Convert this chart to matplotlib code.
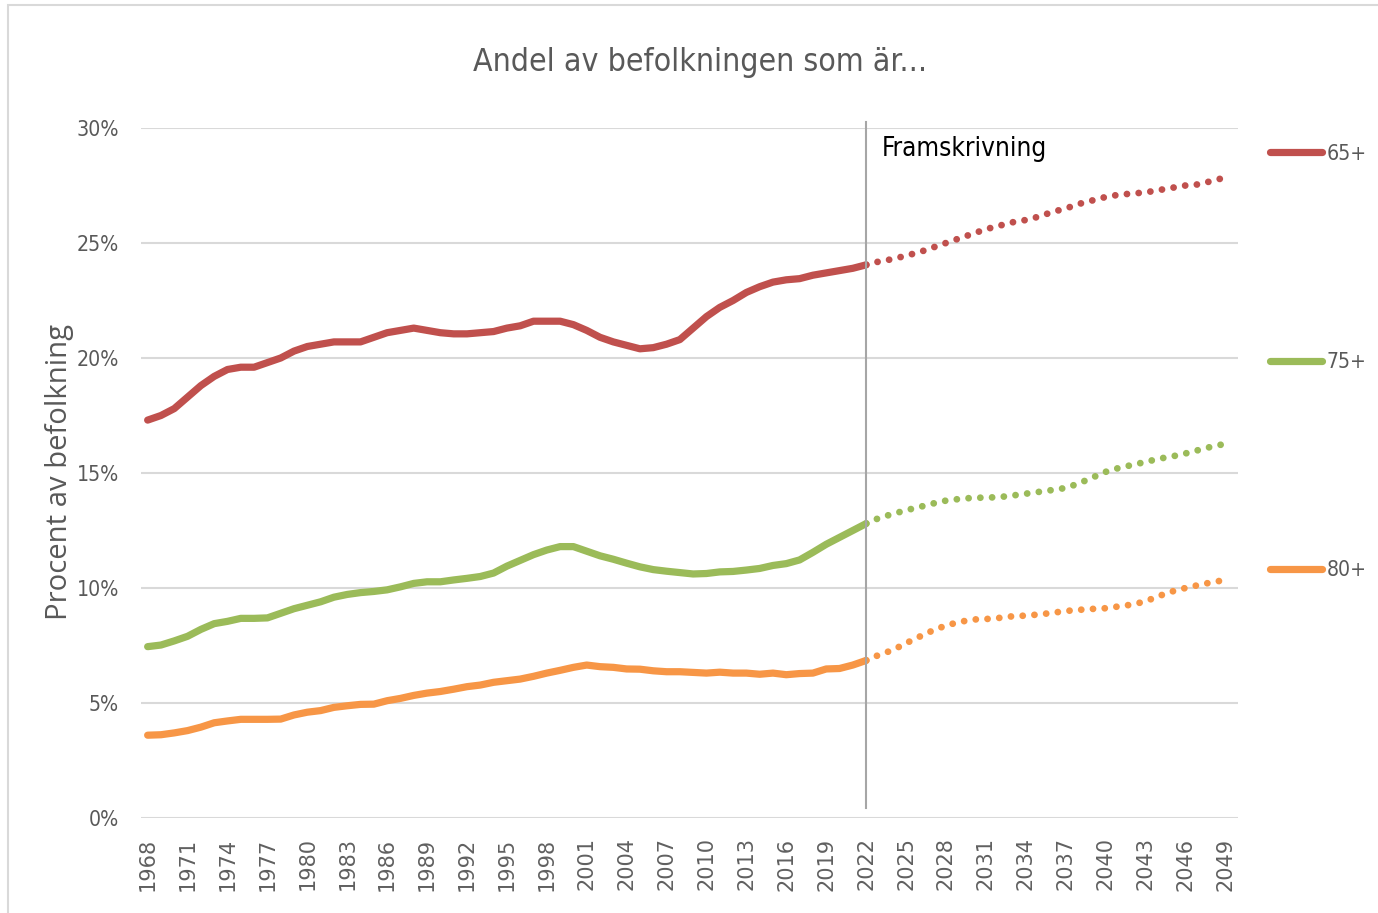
import matplotlib
matplotlib.use("Agg")
import matplotlib.pyplot as plt
from matplotlib.lines import Line2D
from matplotlib.ticker import PercentFormatter
from matplotlib.patches import Rectangle
from matplotlib import font_manager as fm

hist_years = list(range(1968, 2023))
proj_years = list(range(2022, 2050))
tick_years = list(range(1968, 2050, 3))

andel_65_hist = [17.3, 17.5, 17.8, 18.3, 18.8, 19.2, 19.5, 19.6, 19.6, 19.8,
                 20.0, 20.3, 20.5, 20.6, 20.7, 20.7, 20.7, 20.9, 21.1, 21.2,
                 21.3, 21.2, 21.1, 21.05, 21.05, 21.1, 21.15, 21.3, 21.4, 21.6,
                 21.6, 21.6, 21.45, 21.2, 20.9, 20.7, 20.55, 20.4, 20.45, 20.6,
                 20.8, 21.3, 21.8, 22.2, 22.5, 22.85, 23.1, 23.3, 23.4, 23.45,
                 23.6, 23.7, 23.8, 23.9, 24.05]
andel_65_proj = [24.05, 24.2, 24.3, 24.45, 24.6, 24.8, 25.0, 25.2, 25.4, 25.6,
                 25.75, 25.9, 26.0, 26.15, 26.35, 26.5, 26.7, 26.85, 27.0, 27.1,
                 27.15, 27.2, 27.3, 27.4, 27.5, 27.55, 27.7, 27.85]

andel_75_hist = [7.45, 7.52, 7.7, 7.9, 8.2, 8.45, 8.55, 8.68, 8.68, 8.7,
                 8.9, 9.1, 9.25, 9.4, 9.6, 9.72, 9.8, 9.85, 9.92, 10.05,
                 10.2, 10.27, 10.27, 10.35, 10.42, 10.5, 10.65, 10.95, 11.2, 11.45,
                 11.65, 11.8, 11.8, 11.6, 11.4, 11.25, 11.08, 10.92, 10.8, 10.73,
                 10.67, 10.61, 10.63, 10.7, 10.72, 10.78, 10.85, 10.98, 11.06, 11.22,
                 11.55, 11.9, 12.2, 12.5, 12.8]
andel_75_proj = [12.8, 13.05, 13.22, 13.38, 13.52, 13.67, 13.8, 13.87, 13.92, 13.93,
                 13.95, 14.02, 14.1, 14.18, 14.26, 14.35, 14.55, 14.8, 15.05, 15.22,
                 15.35, 15.48, 15.62, 15.72, 15.85, 16.0, 16.15, 16.27]

andel_80_hist = [3.6, 3.62, 3.7, 3.8, 3.95, 4.14, 4.22, 4.29, 4.29, 4.29,
                 4.3, 4.48, 4.6, 4.67, 4.81, 4.88, 4.94, 4.95, 5.1, 5.2,
                 5.33, 5.43, 5.5, 5.6, 5.71, 5.78, 5.9, 5.97, 6.04, 6.16,
                 6.3, 6.42, 6.55, 6.65, 6.58, 6.55, 6.48, 6.47, 6.4, 6.36,
                 6.36, 6.33, 6.3, 6.34, 6.3, 6.3, 6.25, 6.3, 6.23, 6.28,
                 6.3, 6.48, 6.5, 6.65, 6.85]
andel_80_proj = [6.85, 7.1, 7.3, 7.6, 7.88, 8.15, 8.37, 8.52, 8.63, 8.65,
                 8.7, 8.77, 8.8, 8.85, 8.92, 9.0, 9.05, 9.09, 9.12, 9.2,
                 9.28, 9.42, 9.65, 9.85, 10.0, 10.13, 10.25, 10.35]

series = [
    ("65+", "#C0504D", andel_65_hist, andel_65_proj),
    ("75+", "#9BBB59", andel_75_hist, andel_75_proj),
    ("80+", "#F79646", andel_80_hist, andel_80_proj),
]

grey = "#595959"


def narrow_font():
    # a condensed face if one is installed, else Liberation Sans
    for f in fm.fontManager.ttflist:
        n = f.name.lower()
        if ("narrow" in n or "condensed" in n or f.stretch in ("condensed", "semi-condensed")) \
                and f.style == "normal" and f.weight in (400, "normal", "regular"):
            return dict(fname=f.fname)
    return dict(family="Liberation Sans")


NARROW = narrow_font()


def fp(size, base=NARROW):
    return fm.FontProperties(size=size, **base)


fig = plt.figure(figsize=(13.78, 9.13), dpi=100)
renderer = fig.canvas.get_renderer()


def size_for(text, target_px, base=NARROW, rotation=0):
    t = fig.text(0, 0, text, fontproperties=fp(10, base), rotation=rotation)
    bb = t.get_window_extent(renderer)
    t.remove()
    dim = bb.width if rotation == 0 else bb.height
    return 10 * target_px / dim


ax = fig.add_axes([141 / 1378, 1 - 818 / 913, (1238 - 141) / 1378, (818 - 128) / 913])

# light frame round the chart
fig.patches.append(Rectangle((8 / 1378, -0.1), 1.2, 1 - 5 / 913 + 0.1,
                             transform=fig.transFigure, fill=False,
                             edgecolor="#D9D9D9", linewidth=1.5))

for name, col, hist, proj in series:
    ax.plot(hist_years, hist, color=col, lw=5.2, solid_capstyle="round",
            solid_joinstyle="round")
    ax.plot(proj_years, proj, color=col, lw=4.9, linestyle=(0, (0.01, 1.72)),
            dash_capstyle="round")

ax.axvline(2022, ymin=0.0145, ymax=1.009, color="#A6A6A6", lw=1.5, clip_on=False)
ax.text(2023.2, 29.1, "Framskrivning", fontproperties=fp(size_for("Framskrivning", 165)),
        color="black", va="center", ha="left")

ax.set_xlim(1967.5, 2049.95)
ax.set_ylim(0, 30)
ax.set_yticks(range(0, 31, 5))
ax.yaxis.set_major_formatter(PercentFormatter(decimals=0))
ax.set_xticks(tick_years)
ax.set_xticklabels([str(y) for y in tick_years], rotation=90,
                   fontsize=15, family="DejaVu Sans", color="#606060")
ytick_size = size_for("30%", 38) * 1.12
for lab in ax.get_yticklabels():
    lab.set_fontproperties(fp(ytick_size))
    lab.set_color(grey)
ax.tick_params(axis="both", length=0)
ax.tick_params(axis="x", pad=14)
ax.tick_params(axis="y", pad=16)
ax.grid(axis="y", color="#D9D9D9", lw=1.5)
ax.set_axisbelow(True)
for s in ax.spines.values():
    s.set_visible(False)

ylab_base = dict(family="Open Sans")
fig.text(60 / 1378, 1 - 472 / 913, "Procent av befolkning", rotation=90,
         fontproperties=fp(size_for("Procent av befolkning", 295, ylab_base, 90), ylab_base),
         color=grey, ha="center", va="center")
fig.text(700 / 1378, 1 - 62 / 913, "Andel av befolkningen som är...",
         fontproperties=fp(size_for("Andel av befolkningen som är...", 455)),
         color=grey, ha="center", va="center")

leg_size = size_for("65+", 35) * 1.15
F = leg_size * 100 / 72
handles = [Line2D([], [], color=col, lw=5.2, solid_capstyle="round")
           for name, col, hist, proj in series]
ax.legend(handles, [s[0] for s in series], loc="upper left",
          bbox_to_anchor=(1270 / 1378, 1 - (156 - 0.58 * F) / 913),
          bbox_transform=fig.transFigure,
          frameon=False, prop=fp(leg_size), labelcolor=grey,
          handlelength=52 / F, handletextpad=5 / F, labelspacing=213 / F - 1.17,
          borderpad=0, borderaxespad=0)

fig.savefig("out.png", dpi=100)
